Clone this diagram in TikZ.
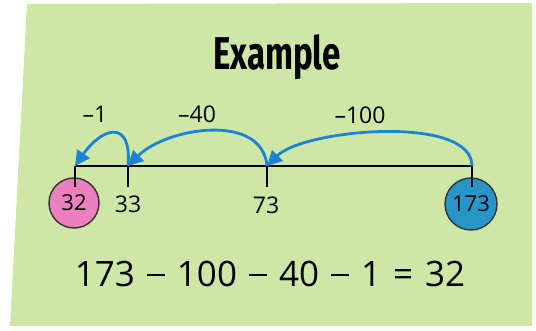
\documentclass[tikz,border=0pt]{standalone}
\usepackage{fontspec}
\setmainfont{Open Sans}
\newfontfamily\titlefont{Fira Sans}
\usetikzlibrary{arrows.meta}

\definecolor{panelgreen}{RGB}{206,231,166}
\definecolor{jumpblue}{RGB}{28,132,214}
\definecolor{startblue}{RGB}{38,150,200}
\definecolor{endpink}{RGB}{236,128,190}

\newcommand{\gap}{\hspace{12pt}}
\newcommand{\mns}{\raisebox{10.5pt}{\rule{18pt}{2.4pt}}}

\begin{document}
\begin{tikzpicture}[x=1pt,y=1pt,
  jump/.style={draw=jumpblue,line width=2.8pt,-{Triangle[length=15pt,width=15pt]}},
  numlab/.style={anchor=base,font=\fontsize{23}{25}\selectfont},
  ball/.style={circle,draw=black!80,line width=1.4pt,inner sep=0pt,font=\fontsize{22}{24}\selectfont}]

\useasboundingbox (0,0) rectangle (536,331);
\fill[panelgreen] (27,327) -- (532,328) -- (532,5) -- (10,5) -- cycle;

\node[anchor=base,xscale=0.72,font=\titlefont\bfseries\fontsize{46}{50}\selectfont] (title) at (277,261) {Example};

% the number line
\coordinate (t32) at (75,165);
\coordinate (t33) at (128,165);
\coordinate (t73) at (267,165);
\coordinate (t173) at (472,165);

\node[ball,fill=endpink,minimum size=50pt] (n32) at (74,128) {32};
\node[ball,fill=startblue,minimum size=52pt] (n173) at (471,127) {173};

\draw[line width=2.6pt] (t32) -- (t173);
\foreach \t in {t32,t33,t73,t173}
  \draw[line width=2.6pt] (\t) -- ++(0,-21);

\node[numlab] (l33) at (128,118) {33};
\node[numlab] (l73) at (266,117) {73};

% the jumps back
\draw[jump] (t173) to[out=90,in=45,looseness=0.65] (t73);
\draw[jump] (t73) to[out=95,in=45,looseness=1] (t33);
\draw[jump] (t33) to[out=85,in=55,looseness=2.3] (t32);

\node[numlab] (j1) at (95,208) {–1};
\node[numlab] (j40) at (197,208) {–40};
\node[numlab] (j100) at (360,207) {–100};

\node[anchor=base,font=\fontsize{35}{38}\selectfont] (sum) at (270,44)
  {173\gap\mns\gap100\gap\mns\gap40\gap\mns\gap1\gap=\gap32};

\end{tikzpicture}
\end{document}
